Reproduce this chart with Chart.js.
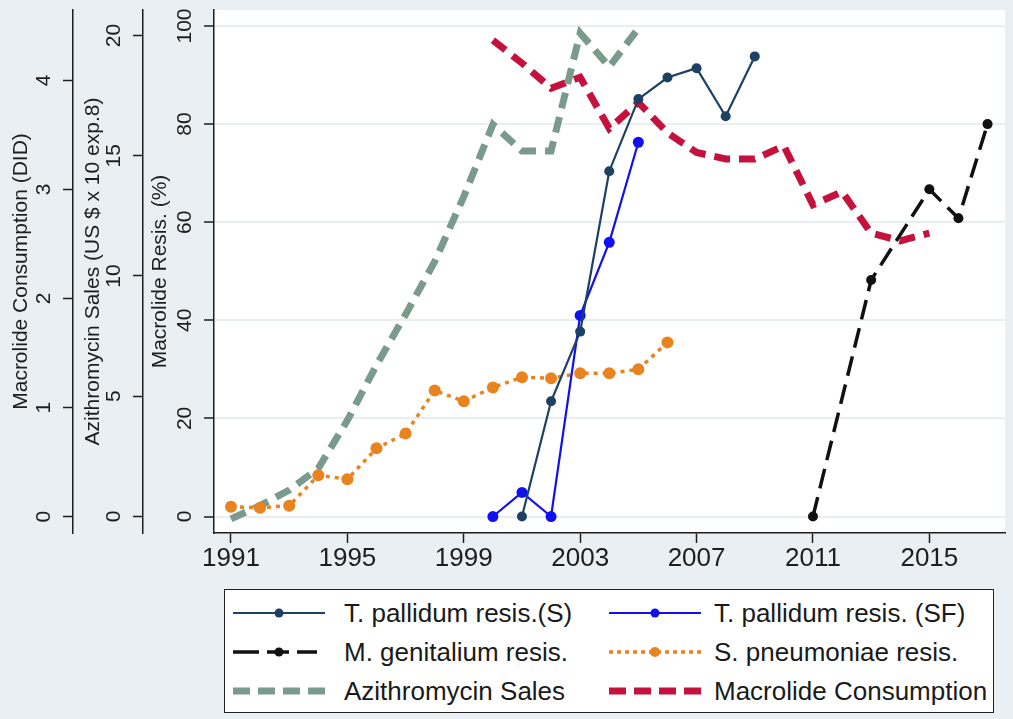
<!DOCTYPE html>
<html>
<head>
<meta charset="utf-8">
<script src="https://cdn.jsdelivr.net/npm/chart.js@4.4.1/dist/chart.umd.min.js"></script>
<style>
  html, body { margin: 0; padding: 0; background: #e9eff3; }
  #wrap { position: relative; width: 1013px; height: 719px; overflow: hidden; }
  canvas { position: absolute; left: 0; top: 0; }
  #legend { position: absolute; left: 224px; top: 589px; width: 770px; height: 124px;
    background: #fff; border: 1.5px solid #222; box-sizing: border-box;
    font-family: "Liberation Sans", Arial, sans-serif; font-size: 26px; color: #1a1a1a; }
  .item { position: absolute; height: 30px; line-height: 30px; white-space: nowrap; }
  .item svg { position: absolute; top: 5px; }
  .item span { position: absolute; top: 0; }
</style>
</head>
<body>
<div id="wrap">
  <canvas id="c" width="1013" height="719"></canvas>
  <div id="legend"></div>
</div>
<script>
// ---------------- data ----------------
const xTickYears = [1991, 1995, 1999, 2003, 2007, 2011, 2015];
const resisTicks = [0, 20, 40, 60, 80, 100];
const salesTicks = [0, 5, 10, 15, 20];
const consumptionTicks = [0, 1, 2, 3, 4];

const pallidumSYears = [2001, 2002, 2003, 2004, 2005, 2006, 2007, 2008, 2009];
const pallidumS = [0, 23.5, 37.7, 70.4, 85.1, 89.5, 91.4, 81.6, 93.8];

const pallidumSFYears = [2000, 2001, 2002, 2003, 2004, 2005];
const pallidumSF = [0, 4.9, 0, 41.0, 55.9, 76.3];

const genitaliumYears = [2011, 2013, 2015, 2016, 2017];
const genitalium = [0, 48.2, 66.7, 60.8, 80.0];

const pneumoniaeYears = [1991, 1992, 1993, 1994, 1995, 1996, 1997, 1998, 1999, 2000, 2001, 2002, 2003, 2004, 2005, 2006];
const pneumoniae = [2.0, 1.8, 2.2, 8.4, 7.6, 13.9, 16.9, 25.7, 23.5, 26.3, 28.4, 28.2, 29.2, 29.2, 30.0, 35.5];

const salesYears = [1991, 1992, 1993, 1994, 1995, 1996, 1997, 1998, 1999, 2000, 2001, 2002, 2003, 2004, 2005];
const sales = [-0.1, 0.45, 1.1, 2.0, 4.0, 6.3, 8.4, 10.6, 13.3, 16.3, 15.2, 15.2, 20.1, 18.7, 20.3];

const consumptionYears = [2000, 2001, 2002, 2003, 2004, 2005, 2006, 2007, 2008, 2009, 2010, 2011, 2012, 2013, 2014, 2015];
const consumption = [4.37, 4.16, 3.93, 4.03, 3.56, 3.80, 3.52, 3.34, 3.28, 3.28, 3.40, 2.86, 2.98, 2.60, 2.53, 2.60];

const legendLabels = [
  "T. pallidum resis.(S)", "T. pallidum resis. (SF)",
  "M. genitalium resis.", "S. pneumoniae resis.",
  "Azithromycin Sales", "Macrolide Consumption"
];

// ---------------- styles ----------------
const C_NAVY = "#1d4163", C_BLUE = "#1010f0", C_BLACK = "#111111",
      C_ORANGE = "#e8831e", C_GRAY = "#7b9a8e", C_RED = "#c5123d";
const INK = "#1e1e1e";
const FONT = "'Liberation Sans', Arial, sans-serif";

function pts(xs, ys) { return xs.map((x, i) => ({ x: x, y: ys[i] })); }

const plotBg = {
  id: "plotBg",
  beforeDraw(chart) {
    const { ctx, chartArea: a } = chart;
    ctx.save();
    ctx.fillStyle = "#ffffff";
    ctx.fillRect(a.left, a.top, a.right - a.left, a.bottom - a.top);
    ctx.restore();
  }
};

function fixed(ticks) { return scale => { scale.ticks = ticks.map(v => ({ value: v })); }; }
function yFit(w) {
  return scale => { scale.width = w; scale.paddingTop = 0; scale.paddingBottom = 0; };
}

const yTickFont = { family: FONT, size: 21 };
const yTitleFont = { family: FONT, size: 21, lineHeight: 1 };

new Chart(document.getElementById("c"), {
  type: "line",
  data: {
    datasets: [
      { label: legendLabels[0], data: pts(pallidumSYears, pallidumS), yAxisID: "y",
        borderColor: C_NAVY, backgroundColor: C_NAVY, borderWidth: 2.2,
        pointRadius: 5, pointBorderWidth: 0, order: 1 },
      { label: legendLabels[1], data: pts(pallidumSFYears, pallidumSF), yAxisID: "y",
        borderColor: C_BLUE, backgroundColor: C_BLUE, borderWidth: 2.2,
        pointRadius: 5.5, pointBorderWidth: 0, order: 2 },
      { label: legendLabels[2], data: pts(genitaliumYears, genitalium), yAxisID: "y",
        borderColor: C_BLACK, backgroundColor: C_BLACK, borderWidth: 3.5, borderDash: [20, 9],
        pointRadius: 5, pointBorderWidth: 0, order: 3 },
      { label: legendLabels[3], data: pts(pneumoniaeYears, pneumoniae), yAxisID: "y",
        borderColor: C_ORANGE, backgroundColor: C_ORANGE, borderWidth: 3.5, borderDash: [4, 5],
        pointRadius: 6, pointBorderWidth: 0, order: 4 },
      { label: legendLabels[4], data: pts(salesYears, sales), yAxisID: "ySales",
        borderColor: C_GRAY, backgroundColor: C_GRAY, borderWidth: 7, borderDash: [16, 9],
        pointRadius: 0, order: 5 },
      { label: legendLabels[5], data: pts(consumptionYears, consumption), yAxisID: "yDid",
        borderColor: C_RED, backgroundColor: C_RED, borderWidth: 7, borderDash: [16, 9],
        pointRadius: 0, order: 6 }
    ]
  },
  options: {
    responsive: false,
    animation: false,
    events: [],
    layout: { padding: { left: 0, top: 10, right: 8, bottom: 136 } },
    plugins: { legend: { display: false }, tooltip: { enabled: false } },
    elements: { line: { tension: 0, borderCapStyle: "butt" } },
    scales: {
      x: {
        type: "linear", position: "bottom",
        min: 1990.416, max: 2017.6,
        afterBuildTicks: fixed(xTickYears),
        afterFit: scale => { scale.height = 50; scale.paddingLeft = 0; scale.paddingRight = 0; },
        ticks: { color: INK, font: { family: FONT, size: 26, lineHeight: 1.2 }, padding: 0.4,
                 maxRotation: 0, minRotation: 0, callback: v => String(v) },
        grid: { drawOnChartArea: false, drawTicks: true, tickLength: 10, tickColor: INK, tickWidth: 1.5 },
        border: { display: true, color: INK, width: 1.5 }
      },
      y: {
        type: "linear", position: "left", weight: 1,
        min: -3.36, max: 103.26,
        afterBuildTicks: fixed(resisTicks),
        afterFit: yFit(71),
        ticks: { color: INK, font: yTickFont, padding: 1.0, minRotation: 90, maxRotation: 90,
                 crossAlign: "center", callback: v => String(v) },
        grid: { display: true, drawOnChartArea: true, color: "#e9eef1", lineWidth: 2,
                drawTicks: true, tickLength: 10, tickColor: INK, tickWidth: 1.5 },
        border: { display: true, color: INK, width: 1.5 },
        title: { display: true, text: "Macrolide Resis. (%)", color: INK, font: yTitleFont,
                 padding: { top: 6.5, bottom: 0 } }
      },
      ySales: {
        type: "linear", position: "left", weight: 2,
        min: -0.686, max: 21.06,
        afterBuildTicks: fixed(salesTicks),
        afterFit: yFit(70),
        ticks: { color: INK, font: yTickFont, padding: 7.3, minRotation: 90, maxRotation: 90,
                 crossAlign: "center", callback: v => String(v) },
        grid: { display: true, drawOnChartArea: false, drawTicks: true, tickLength: 10,
                tickColor: INK, tickWidth: 1.5 },
        border: { display: true, color: INK, width: 1.5 },
        title: { display: true, text: "Azithromycin Sales (US $ x 10 exp.8)", color: INK, font: yTitleFont,
                 padding: { top: 9.5, bottom: 0 } }
      },
      yDid: {
        type: "linear", position: "left", weight: 3,
        min: -0.151, max: 4.647,
        afterBuildTicks: fixed(consumptionTicks),
        afterFit: yFit(73),
        ticks: { color: INK, font: yTickFont, padding: 13.1, minRotation: 90, maxRotation: 90,
                 crossAlign: "center", callback: v => String(v) },
        grid: { display: true, drawOnChartArea: false, drawTicks: true, tickLength: 10,
                tickColor: INK, tickWidth: 1.5 },
        border: { display: true, color: INK, width: 1.5 },
        title: { display: true, text: "Macrolide Consumption (DID)", color: INK, font: yTitleFont,
                 padding: { top: 10.5, bottom: 0 } }
      }
    }
  },
  plugins: [plotBg]
});

// ---------------- legend (HTML text + SVG samples) ----------------
const swatches = [
  `<line x1="2" y1="10" x2="94" y2="10" stroke="${C_NAVY}" stroke-width="2.2"/><circle cx="48" cy="10" r="4.5" fill="${C_NAVY}"/>`,
  `<line x1="2" y1="10" x2="94" y2="10" stroke="${C_BLUE}" stroke-width="2.2"/><circle cx="48" cy="10" r="4.5" fill="${C_BLUE}"/>`,
  `<line x1="2" y1="10" x2="94" y2="10" stroke="${C_BLACK}" stroke-width="3.5" stroke-dasharray="26 8 22 8 20 8"/><circle cx="48" cy="10" r="4.5" fill="${C_BLACK}"/>`,
  `<line x1="2" y1="10" x2="94" y2="10" stroke="${C_ORANGE}" stroke-width="3.5" stroke-dasharray="4 4"/><circle cx="48" cy="10" r="5" fill="${C_ORANGE}"/>`,
  `<line x1="2" y1="10" x2="94" y2="10" stroke="${C_GRAY}" stroke-width="7" stroke-dasharray="17 8"/>`,
  `<line x1="2" y1="10" x2="94" y2="10" stroke="${C_RED}" stroke-width="7" stroke-dasharray="17 8"/>`
];
const legendEl = document.getElementById("legend");
const rowTops = [8, 47, 86];
legendLabels.forEach((lab, i) => {
  const col = i % 2, row = Math.floor(i / 2);
  const d = document.createElement("div");
  d.className = "item";
  d.style.top = rowTops[row] + "px";
  d.style.left = (col === 0 ? 6 : 382) + "px";
  d.innerHTML = `<svg width="96" height="20" style="left:0">${swatches[i]}</svg><span style="left:${col === 0 ? 113 : 107}px">${lab}</span>`;
  legendEl.appendChild(d);
});
</script>
</body>
</html>
